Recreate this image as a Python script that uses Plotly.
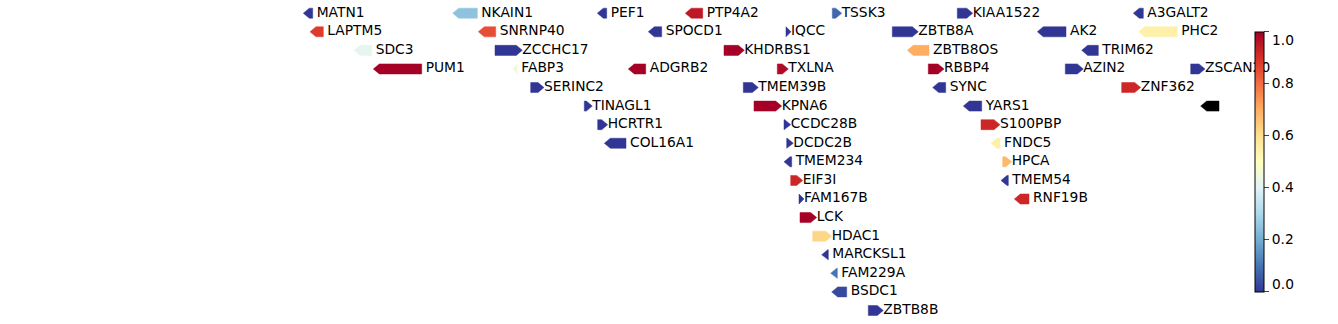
import plotly.graph_objects as go
from plotly.colors import sample_colorscale
import math

# gene data (x positions in plot units, row index, strand, score)
names = ["MATN1", "NKAIN1", "PEF1", "PTP4A2", "TSSK3", "KIAA1522", "A3GALT2",
         "LAPTM5", "SNRNP40", "SPOCD1", "IQCC", "ZBTB8A", "AK2", "PHC2",
         "SDC3", "ZCCHC17", "KHDRBS1", "ZBTB8OS", "TRIM62",
         "PUM1", "FABP3", "ADGRB2", "TXLNA", "RBBP4", "AZIN2", "ZSCAN20",
         "SERINC2", "TMEM39B", "SYNC", "ZNF362",
         "TINAGL1", "KPNA6", "YARS1", "",
         "HCRTR1", "CCDC28B", "S100PBP",
         "COL16A1", "DCDC2B", "FNDC5",
         "TMEM234", "HPCA",
         "EIF3I", "TMEM54",
         "FAM167B", "RNF19B",
         "LCK", "HDAC1", "MARCKSL1", "FAM229A", "BSDC1", "ZBTB8B"]
starts = [303.3, 452.7, 597.3, 685.3, 832.3, 957.3, 1133.3,
          310.0, 478.3, 648.3, 786.0, 892.3, 1037.3, 1138.7,
          354.0, 495.0, 724.0, 907.3, 1081.7,
          373.3, 512.7, 628.3, 777.3, 928.3, 1065.3, 1190.7,
          530.7, 743.3, 932.7, 1121.7,
          584.3, 754.0, 963.3, 1200.7,
          597.7, 784.0, 981.0,
          604.3, 786.7, 991.0,
          784.0, 1002.7,
          790.7, 1001.0,
          799.0, 1014.3,
          800.0, 812.7, 821.7, 830.7, 831.7, 868.3]
ends = [312.7, 477.3, 606.7, 702.7, 841.7, 972.7, 1143.3,
        323.3, 495.7, 661.7, 791.0, 918.3, 1066.0, 1177.3,
        371.7, 522.3, 744.3, 929.0, 1098.3,
        421.7, 517.3, 645.7, 788.3, 944.0, 1083.3, 1205.0,
        544.0, 758.3, 945.7, 1140.7,
        592.3, 781.7, 981.7, 1219.0,
        607.7, 790.7, 1000.0,
        626.0, 793.3, 1000.0,
        791.7, 1011.7,
        802.7, 1008.3,
        804.0, 1029.0,
        816.7, 831.7, 828.3, 837.3, 846.7, 883.3]
strands = ["-", "-", "-", "-", "+", "+", "-",
           "-", "-", "-", "+", "+", "-", "-",
           "-", "+", "+", "-", "-",
           "-", "-", "-", "+", "+", "+", "+",
           "+", "+", "-", "+",
           "+", "+", "-", "-",
           "+", "+", "+",
           "-", "+", "-",
           "-", "+",
           "+", "-",
           "+", "-",
           "+", "+", "-", "-", "-", "+"]
rows = [0, 0, 0, 0, 0, 0, 0,
        1, 1, 1, 1, 1, 1, 1,
        2, 2, 2, 2, 2,
        3, 3, 3, 3, 3, 3, 3,
        4, 4, 4, 4,
        5, 5, 5, 5,
        6, 6, 6,
        7, 7, 7,
        8, 8,
        9, 9,
        10, 10,
        11, 12, 13, 14, 15, 16]
scores = [0.0, 0.25, 0.0, 0.95, 0.08, 0.0, 0.0,
          0.88, 0.85, 0.0, 0.0, 0.0, 0.0, 0.55,
          0.42, 0.0, 1.0, 0.7, 0.0,
          1.0, 0.45, 1.0, 0.98, 1.0, 0.0, 0.0,
          0.0, 0.0, 0.0, 0.92,
          0.0, 1.0, 0.0, None,
          0.0, 0.0, 0.92,
          0.0, 0.0, 0.55,
          0.0, 0.68,
          0.92, 0.0,
          0.0, 0.92,
          1.0, 0.62, 0.0, 0.1, 0.03, 0.0]

colorbar_ticks = [0.0, 0.2, 0.4, 0.6, 0.8, 1.0]

W, H = 1338, 324
ROW0_PX, ROW_PX = 13.2, 18.58
HALF_H = 0.27        # half arrow height in row units
HEAD = 6.0           # arrow head length in x units
CB_TOP, CB_BOT = 31.5, 291.7   # colorbar extent in px
FONT_SIZE = 13.8
TICKFONT = dict(family="DejaVu Sans", size=FONT_SIZE, color="black")

fig = go.Figure()

for name, s, e, strand, r, v in zip(names, starts, ends, strands, rows, scores):
    if v is None or (isinstance(v, float) and math.isnan(v)):
        col = "black"
    else:
        col = sample_colorscale("RdYlBu_r", [v])[0]
    head = min(HEAD, e - s)
    if strand == "+":
        xs = [s, e - head, e, e - head, s, s]
    else:
        xs = [e, s + head, s, s + head, e, e]
    ys = [r - HALF_H, r - HALF_H, r, r + HALF_H, r + HALF_H, r - HALF_H]
    fig.add_trace(go.Scatter(x=xs, y=ys, mode="lines", fill="toself",
                             fillcolor=col, line=dict(color=col, width=0.5),
                             hoverinfo="skip", showlegend=False))

lab_x = [e + (0.0 if st == "+" else 4.0) for e, st in zip(ends, strands)]
fig.add_trace(go.Scatter(x=lab_x, y=rows, mode="text", text=names,
                         textposition="middle right",
                         marker=dict(size=0),
                         textfont=dict(family="DejaVu Sans", size=FONT_SIZE, color="black"),
                         hoverinfo="skip", showlegend=False))

# colorbar (end labels drawn separately, shifted inside the bar extent)
ticktext = ["" if t in (0.0, 1.0) else f"{t:.1f}" for t in colorbar_ticks]
fig.add_trace(go.Scatter(x=[None], y=[None], mode="markers",
                         marker=dict(colorscale="RdYlBu_r", cmin=0, cmax=1, color=[0.5],
                                     showscale=True,
                                     colorbar=dict(thickness=9, lenmode="pixels",
                                                   len=CB_BOT - CB_TOP,
                                                   x=1255 / W, xanchor="left",
                                                   y=1 - (CB_TOP + CB_BOT) / 2 / H, yanchor="middle",
                                                   outlinewidth=1, outlinecolor="black",
                                                   ticks="outside", ticklen=5, tickwidth=1,
                                                   tickvals=colorbar_ticks,
                                                   ticktext=ticktext,
                                                   tickfont=TICKFONT,
                                                   xpad=0, ypad=0)),
                         hoverinfo="skip", showlegend=False))

fig.add_annotation(x=1272 / W, y=1 - CB_TOP / H, xref="paper", yref="paper",
                   xanchor="left", yanchor="top", text=f"{colorbar_ticks[-1]:.1f}",
                   showarrow=False, font=TICKFONT, borderpad=0, borderwidth=0)
fig.add_annotation(x=1272 / W, y=1 - CB_BOT / H, xref="paper", yref="paper",
                   xanchor="left", yanchor="bottom", text=f"{colorbar_ticks[0]:.1f}",
                   showarrow=False, font=TICKFONT, borderpad=0, borderwidth=0)

fig.update_layout(width=W, height=H, margin=dict(l=0, r=0, t=0, b=0),
                  paper_bgcolor="white", plot_bgcolor="white",
                  xaxis=dict(range=[0, W], visible=False, fixedrange=True),
                  yaxis=dict(range=[(H - ROW0_PX) / ROW_PX, -ROW0_PX / ROW_PX],
                             visible=False, fixedrange=True),
                  font=dict(family="DejaVu Sans"))

fig.write_html("out.html")
